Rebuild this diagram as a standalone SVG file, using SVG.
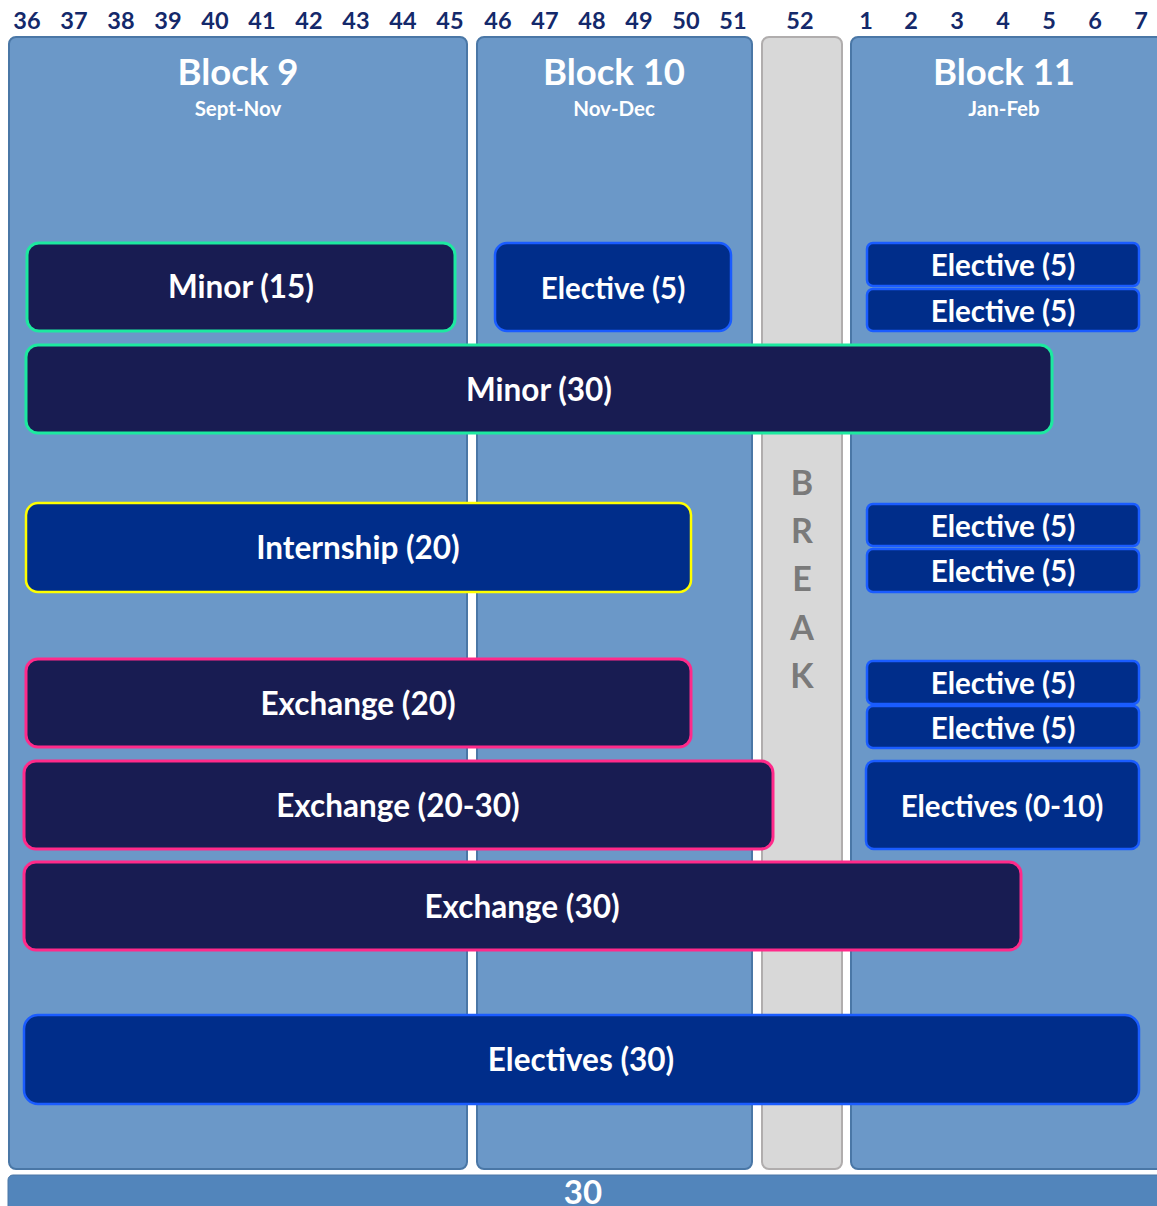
<svg xmlns="http://www.w3.org/2000/svg" width="1157" height="1206" viewBox="0 0 1157 1206">
<style>
text{font-family:Lato,"Open Sans","Liberation Sans",sans-serif;font-weight:bold;text-anchor:middle}
.wk{fill:#14296b;font-size:23.5px}
.panel{fill:#6b98c8;stroke:#4a77a6;stroke-width:2}
.brk{fill:#d8d8d8;stroke:#b0adad;stroke-width:2}
.title{fill:#fff;font-size:36.5px}
.sub{fill:#fff;font-size:20.5px}
.dk{fill:#181c52;stroke-width:3}
.bl{fill:#002d8a;stroke:#1a5cff;stroke-width:2.5}
.grn{stroke:#1de9a0}
.yel{stroke:#ffff00}
.pnk{stroke:#ff2a8a}
.lbl{fill:#fff;font-size:31.5px}
.sl{fill:#fff;font-size:29.5px}
.bk{fill:#7a7a7a;font-size:34px}
</style>
<rect width="1157" height="1206" fill="#fff"/>
<g id="weeks">
<text class="wk" x="27" y="29">36</text>
<text class="wk" x="74" y="29">37</text>
<text class="wk" x="121" y="29">38</text>
<text class="wk" x="168" y="29">39</text>
<text class="wk" x="215" y="29">40</text>
<text class="wk" x="262" y="29">41</text>
<text class="wk" x="309" y="29">42</text>
<text class="wk" x="356" y="29">43</text>
<text class="wk" x="403" y="29">44</text>
<text class="wk" x="450" y="29">45</text>
<text class="wk" x="498" y="29">46</text>
<text class="wk" x="545" y="29">47</text>
<text class="wk" x="592" y="29">48</text>
<text class="wk" x="639" y="29">49</text>
<text class="wk" x="686" y="29">50</text>
<text class="wk" x="733" y="29">51</text>
<text class="wk" x="800" y="29">52</text>
<text class="wk" x="866" y="29">1</text>
<text class="wk" x="911" y="29">2</text>
<text class="wk" x="957" y="29">3</text>
<text class="wk" x="1003" y="29">4</text>
<text class="wk" x="1049" y="29">5</text>
<text class="wk" x="1095" y="29">6</text>
<text class="wk" x="1141" y="29">7</text>
</g>
<g id="block9">
<rect class="panel" x="9" y="37" width="458" height="1132" rx="7"/>
<text class="title" x="238" y="85">Block 9</text>
<text class="sub" x="238" y="116">Sept-Nov</text>
</g>
<g id="block10">
<rect class="panel" x="477" y="37" width="275" height="1132" rx="7"/>
<text class="title" x="614" y="85">Block 10</text>
<text class="sub" x="614" y="116">Nov-Dec</text>
</g>
<g id="break">
<rect class="brk" x="762" y="37" width="80" height="1132" rx="7"/>
<text class="bk" x="802" y="495">B</text>
<text class="bk" x="802" y="543">R</text>
<text class="bk" x="802" y="591">E</text>
<text class="bk" x="802" y="640">A</text>
<text class="bk" x="802" y="688">K</text>
</g>
<g id="block11">
<rect class="panel" x="851" y="37" width="312" height="1132" rx="7"/>
<text class="title" x="1004" y="85">Block 11</text>
<text class="sub" x="1004" y="116">Jan-Feb</text>
</g>
<g id="total">
<rect x="8" y="1175" width="1160" height="40" rx="5" fill="#5285bb" stroke="#4a77a6" stroke-width="1"/>
<text x="583" y="1204" fill="#fff" font-size="33px">30</text>
</g>
<g id="connectors"></g>
<g id="minor15"><rect class="dk grn" x="27" y="243" width="428" height="88" rx="12"/><text class="lbl" x="241" y="298">Minor (15)</text></g>
<g id="elective-b10"><rect class="bl" x="495" y="243" width="236" height="88" rx="12"/><text class="sl" x="613" y="299">Elective (5)</text></g>
<g id="elective-1"><rect class="bl" x="867" y="243" width="272" height="43" rx="6"/><text class="sl" x="1003" y="276">Elective (5)</text></g>
<g id="elective-2"><rect class="bl" x="867" y="289" width="272" height="42" rx="6"/><text class="sl" x="1003" y="322">Elective (5)</text></g>
<g id="minor30"><rect class="dk grn" x="26" y="345" width="1026" height="88" rx="12"/><text class="lbl" x="539" y="401">Minor (30)</text></g>
<g id="internship"><rect class="bl yel" x="26" y="503" width="665" height="89" rx="12" stroke-width="3"/><text class="lbl" x="358" y="559">Internship (20)</text></g>
<g id="elective-3"><rect class="bl" x="867" y="504" width="272" height="42" rx="6"/><text class="sl" x="1003" y="537">Elective (5)</text></g>
<g id="elective-4"><rect class="bl" x="867" y="549" width="272" height="43" rx="6"/><text class="sl" x="1003" y="582">Elective (5)</text></g>
<g id="exchange20"><rect class="dk pnk" x="26" y="659" width="665" height="88" rx="12"/><text class="lbl" x="358" y="715">Exchange (20)</text></g>
<g id="elective-5"><rect class="bl" x="867" y="661" width="272" height="43" rx="6"/><text class="sl" x="1003" y="694">Elective (5)</text></g>
<g id="elective-6"><rect class="bl" x="867" y="706" width="272" height="42" rx="6"/><text class="sl" x="1003" y="739">Elective (5)</text></g>
<g id="exchange20-30"><rect class="dk pnk" x="24" y="761" width="749" height="88" rx="12"/><text class="lbl" x="398" y="817">Exchange (20-30)</text></g>
<g id="electives0-10"><rect class="bl" x="866" y="761" width="273" height="88" rx="8"/><text class="sl" x="1002" y="817">Electives (0-10)</text></g>
<g id="exchange30"><rect class="dk pnk" x="24" y="862" width="997" height="88" rx="12"/><text class="lbl" x="522" y="918">Exchange (30)</text></g>
<g id="electives30"><rect class="bl" x="24" y="1015" width="1115" height="89" rx="14" stroke-width="3"/><text class="lbl" x="581" y="1071">Electives (30)</text></g>
</svg>
